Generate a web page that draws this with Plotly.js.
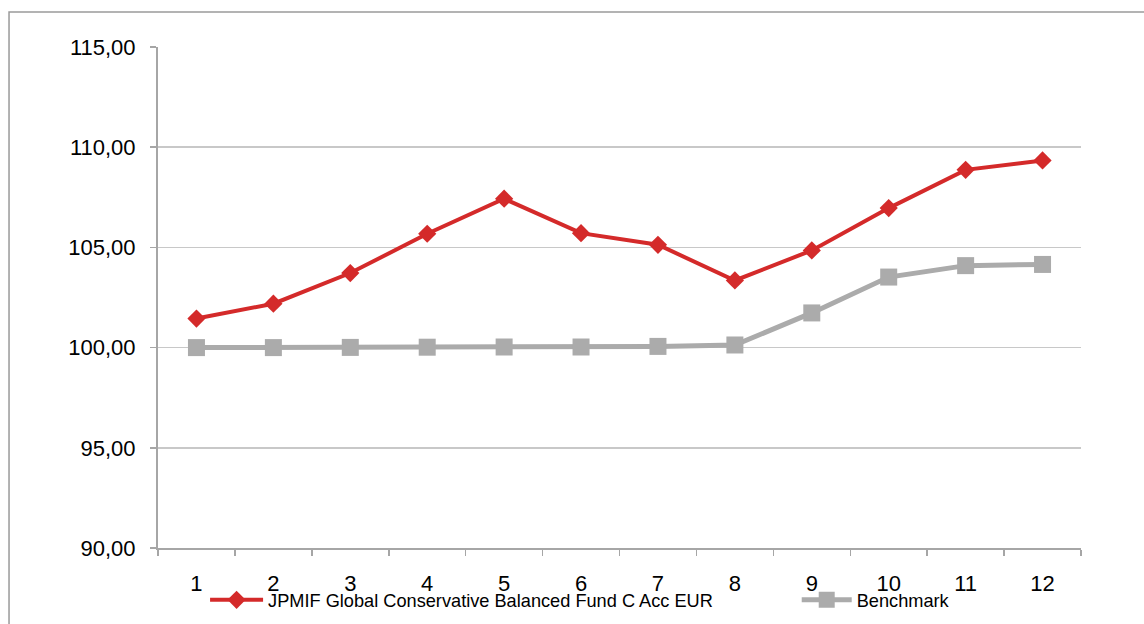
<!DOCTYPE html>
<html>
<head>
<meta charset="utf-8">
<script src="https://cdn.plot.ly/plotly-3.0.1.min.js"></script>
<style>html,body{margin:0;padding:0;background:#fff;}#chart{width:1144px;height:624px;}</style>
</head>
<body>
<div id="chart"></div>
<script>
const categories = ["1","2","3","4","5","6","7","8","9","10","11","12"];
const fundName = "JPMIF Global Conservative Balanced Fund C Acc EUR";
const fundValues = [101.45, 102.19, 103.72, 105.68, 107.43, 105.71, 105.13, 103.35, 104.85, 106.96, 108.87, 109.34];
const benchName = "Benchmark";
const benchValues = [100.00, 100.00, 100.01, 100.02, 100.03, 100.03, 100.06, 100.13, 101.73, 103.52, 104.09, 104.15];
const yTicks = [90, 95, 100, 105, 110, 115];

const font = "Liberation Sans, Arial, sans-serif";

const traces = [
  {
    x: categories, y: benchValues, name: benchName, type: "scatter", mode: "lines+markers",
    line: {color: "#ABABAB", width: 5},
    marker: {symbol: "square", size: 17, color: "#ABABAB"},
    legend: "legend2"
  },
  {
    x: categories, y: fundValues, name: fundName, type: "scatter", mode: "lines+markers",
    line: {color: "#D42A2A", width: 4},
    marker: {symbol: "diamond", size: 14, color: "#D42A2A"},
    legend: "legend"
  }
];

const legendCommon = {
  orientation: "h", xanchor: "left", y: -0.1038, yanchor: "middle",
  font: {family: font, size: 18.2, color: "#000"},
  bgcolor: "rgba(0,0,0,0)"
};

const layout = {
  width: 1144, height: 624,
  margin: {l: 158, r: 63, t: 47, b: 76, autoexpand: false},
  paper_bgcolor: "#fff", plot_bgcolor: "#fff",
  separators: ", ",
  font: {family: font, color: "#000", size: 22},
  showlegend: true,
  legend: Object.assign({}, legendCommon, {x: 0.051, itemwidth: 53}),
  legend2: Object.assign({}, legendCommon, {x: 0.692, itemwidth: 50}),
  xaxis: {
    type: "category", tickson: "boundaries", range: [-0.5, 11.5],
    showgrid: false, zeroline: false,
    showline: true, linecolor: "#A6A6A6", linewidth: 2,
    ticks: "outside", ticklen: 6, tickcolor: "#A6A6A6", tickwidth: 1.5,
    tickfont: {family: font, size: 22, color: "#000"},
    ticklabelstandoff: 15,
    fixedrange: true
  },
  yaxis: {
    range: [90, 115], tickvals: yTicks, tickformat: ".2f",
    showgrid: true, gridcolor: "#C8C8C8", gridwidth: 1.5,
    zeroline: false,
    showline: true, linecolor: "#A6A6A6", linewidth: 2,
    ticks: "outside", ticklen: 6, tickcolor: "#A6A6A6", tickwidth: 1.5,
    tickfont: {family: font, size: 22, color: "#000"},
    ticklabelstandoff: 10,
    fixedrange: true
  },
  shapes: [
    {type: "rect", xref: "paper", yref: "paper", x0: -0.1614, x1: 1.3, y0: -0.3, y1: 1.0699,
     line: {color: "#9A9A9A", width: 1.5}, fillcolor: "rgba(0,0,0,0)", layer: "below"}
  ]
};

Plotly.newPlot("chart", traces, layout, {displayModeBar: false, staticPlot: true});
</script>
</body>
</html>
